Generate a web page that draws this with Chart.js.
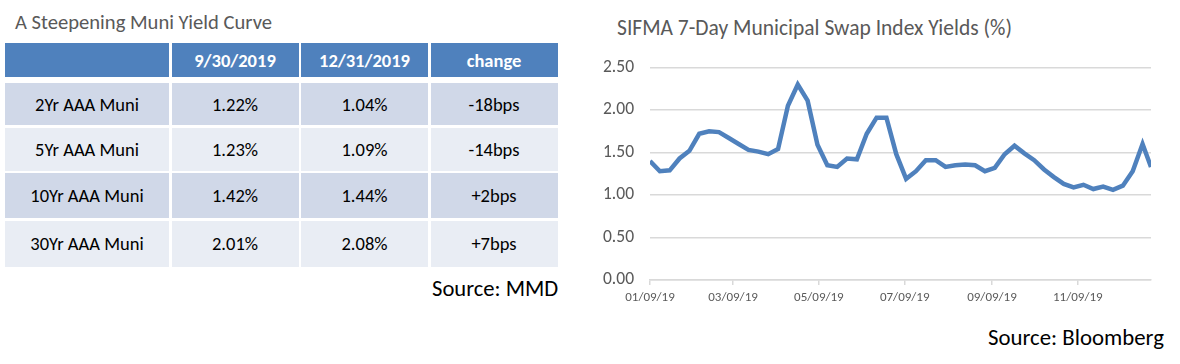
<!DOCTYPE html>
<html>
<head>
<meta charset="utf-8">
<script src="https://cdn.jsdelivr.net/npm/chart.js@4"></script>
<style>
  body { margin: 0; width: 1180px; height: 364px; background: #fff; position: relative; overflow: hidden;
         font-family: Carlito, Lato, "Open Sans", sans-serif; }
  .abs { position: absolute; white-space: nowrap; }
  #leftTitle { left: 15px; top: 8px; font-size: 20.6px; color: #595959; line-height: 28px; }
  #chartTitle { left: 617px; top: 14px; font-size: 21.5px; color: #595959; line-height: 28px; }
  #srcMMD { left: 432px; top: 273px; font-size: 22.6px; color: #000; line-height: 30px; }
  #srcBbg { left: 988px; top: 322px; font-size: 22.8px; color: #000; line-height: 30px; }
  #tbl { position: absolute; left: 5px; top: 43px; display: grid;
         grid-template-columns: 164px 127px 127px 127px;
         grid-template-rows: 37.5px 42px 43px 45px 46px;
         column-gap: 2.5px; row-gap: 2.5px; }
  #tbl div { display: flex; align-items: center; justify-content: center; font-size: 18.5px; color: #000; }
  #tbl .hd { background: #4F81BD; color: #fff; font-weight: bold; height: 34px; align-self: start; }
  #tbl .odd { background: #D0D8E8; }
  #tbl .even { background: #E9EDF4; }
  #chartBox { position: absolute; left: 590px; top: 41px; width: 575px; height: 271px; }
</style>
</head>
<body>
<div id="leftTitle" class="abs">A Steepening Muni Yield Curve</div>
<div id="tbl"></div>
<div id="srcMMD" class="abs">Source: MMD</div>

<div id="chartTitle" class="abs">SIFMA 7-Day Municipal Swap Index Yields (%)</div>
<div id="chartBox"><canvas id="sifmaChart"></canvas></div>
<div id="srcBbg" class="abs">Source: Bloomberg</div>

<script>
// Table data
const tableHeader = ["", "9/30/2019", "12/31/2019", "change"];
const tenors = ["2Yr AAA Muni", "5Yr AAA Muni", "10Yr AAA Muni", "30Yr AAA Muni"];
const yieldsSep = ["1.22%", "1.23%", "1.42%", "2.01%"];
const yieldsDec = ["1.04%", "1.09%", "1.44%", "2.08%"];
const changes = ["-18bps", "-14bps", "+2bps", "+7bps"];

// Weekly SIFMA resets (mm/dd/yy)
const dates = [
  "01/09/19", "01/16/19", "01/23/19", "01/30/19", "02/06/19", "02/13/19", "02/20/19", "02/27/19",
  "03/06/19", "03/13/19", "03/20/19", "03/27/19", "04/03/19", "04/10/19", "04/17/19", "04/24/19",
  "05/01/19", "05/08/19", "05/15/19", "05/22/19", "05/29/19", "06/05/19", "06/12/19", "06/19/19",
  "06/26/19", "07/03/19", "07/10/19", "07/17/19", "07/24/19", "07/31/19", "08/07/19", "08/14/19",
  "08/21/19", "08/28/19", "09/04/19", "09/11/19", "09/18/19", "09/25/19", "10/02/19", "10/09/19",
  "10/16/19", "10/23/19", "10/30/19", "11/06/19", "11/13/19", "11/20/19", "11/27/19", "12/04/19",
  "12/11/19", "12/18/19", "12/25/19", "12/31/19"
];
const sifmaYields = [
  1.40, 1.28, 1.29, 1.43, 1.52, 1.72, 1.75, 1.74,
  1.67, 1.60, 1.53, 1.51, 1.48, 1.54, 2.05, 2.30,
  2.11, 1.59, 1.35, 1.33, 1.43, 1.42, 1.72, 1.91,
  1.91, 1.48, 1.19, 1.28, 1.41, 1.41, 1.33, 1.35,
  1.36, 1.35, 1.28, 1.32, 1.48, 1.58, 1.49, 1.41,
  1.30, 1.21, 1.13, 1.09, 1.12, 1.07, 1.10, 1.06,
  1.11, 1.28, 1.60, 1.33
];
const xTickLabels = ["01/09/19", "03/09/19", "05/09/19", "07/09/19", "09/09/19", "11/09/19"];
const yTicks = [0, 0.5, 1, 1.5, 2, 2.5];

// build the table
const tbl = document.getElementById("tbl");
tableHeader.forEach(h => {
  const c = document.createElement("div");
  c.className = "hd";
  c.textContent = h;
  tbl.appendChild(c);
});
tenors.forEach((t, i) => {
  [t, yieldsSep[i], yieldsDec[i], changes[i]].forEach(v => {
    const c = document.createElement("div");
    c.className = i % 2 === 0 ? "odd" : "even";
    c.textContent = v;
    tbl.appendChild(c);
  });
});

// day number from mm/dd/yy
function toDay(s) {
  const [m, d, y] = s.split("/").map(Number);
  return Date.UTC(2000 + y, m - 1, d) / 864e5;
}
const day0 = toDay(dates[0]);
const points = dates.map((d, i) => ({ x: toDay(d) - day0, y: sifmaYields[i] }));
const tickMap = {};
xTickLabels.forEach(l => { tickMap[toDay(l) - day0] = l; });

const axisGray = "#D9D9D9";
const textGray = "#595959";
const fontFam = "Carlito, Lato, 'Open Sans', sans-serif";

new Chart(document.getElementById("sifmaChart"), {
  type: "line",
  data: {
    datasets: [
      {
        label: "SIFMA",
        data: points,
        borderColor: "#4F81BD",
        borderWidth: 4.5,
        pointRadius: 0,
        tension: 0,
        fill: false,
      },
    ],
  },
  options: {
    responsive: true,
    maintainAspectRatio: false,
    animation: false,
    layout: { padding: { top: 0, right: 14, left: 0, bottom: 0 } },
    plugins: {
      legend: { display: false },
      tooltip: { enabled: false },
    },
    scales: {
      x: {
        type: "linear",
        min: points[0].x,
        max: points[points.length - 1].x,
        afterBuildTicks: (axis) => {
          axis.ticks = xTickLabels.map(l => ({ value: toDay(l) - day0 }));
        },
        afterFit: (axis) => { axis.height = 32; },
        grid: { drawOnChartArea: false, drawTicks: true, tickLength: 5, color: axisGray, lineWidth: 1.5 },
        border: { color: axisGray, width: 1.5 },
        ticks: {
          autoSkip: false,
          maxRotation: 0,
          padding: 5,
          color: textGray,
          font: { family: fontFam, size: 13 },
          callback: (v) => tickMap[v] || "",
        },
      },
      y: {
        min: 0,
        max: 2.5,
        afterBuildTicks: (axis) => {
          axis.ticks = yTicks.map(v => ({ value: v }));
        },
        afterFit: (axis) => { axis.width = 60; },
        grid: { drawTicks: false, color: axisGray, lineWidth: 1.5 },
        border: { display: false },
        ticks: {
          padding: 16,
          color: textGray,
          font: { family: fontFam, size: 17.5 },
          callback: (v) => v.toFixed(2),
        },
      },
    },
  },
});
</script>
</body>
</html>
